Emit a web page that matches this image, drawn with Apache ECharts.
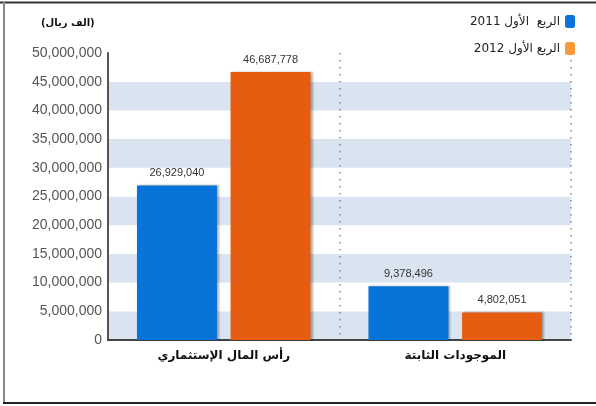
<!DOCTYPE html>
<html><head><meta charset="utf-8">
<script src="https://cdn.jsdelivr.net/npm/echarts@6/dist/echarts.min.js"></script>
<style>html,body{margin:0;padding:0;background:#fff}#c{width:596px;height:406px}</style>
</head><body><div id="c"></div>
<script>
var categories = ['رأس المال الإستثماري', 'الموجودات الثابتة'];
var series2011 = [26929040, 9378496];
var series2012 = [46687778, 4802051];
var seriesNames = ['الربع  الأول 2011', 'الربع الأول 2012'];
var unitLabel = '(الف ريال)';
var yMax = 50000000, yStep = 5000000;

function fmt(v){ return String(v).replace(/\B(?=(\d{3})+(?!\d))/g, ','); }

var chart = echarts.init(document.getElementById('c'), null, {renderer:'canvas'});
var barShadow = {shadowColor:'rgba(0,0,0,0.3)', shadowOffsetX:2, shadowOffsetY:0, shadowBlur:2};
chart.setOption({
  animation:false,
  backgroundColor:'#fff',
  grid:{left:108, right:25, top:53, bottom:66},
  title:{text:unitLabel, left:36, top:13, textStyle:{fontFamily:'DejaVu Sans', fontWeight:'bold', fontSize:10, color:'#111'}},
  legend:{
    orient:'vertical', right:16, top:10, align:'right', itemWidth:10, itemHeight:13, itemGap:14,
    textStyle:{fontFamily:'DejaVu Sans', fontSize:12, color:'#222'},
    data:[{name:seriesNames[0], itemStyle:{color:'#0a74da'}},{name:seriesNames[1], itemStyle:{color:'#f99a38'}}]
  },
  xAxis:{
    type:'category', data:categories,
    axisLine:{lineStyle:{color:'#444', width:2}},
    axisTick:{show:false},
    axisLabel:{fontFamily:'DejaVu Sans', fontWeight:'bold', fontSize:12, color:'#111', margin:10},
    splitLine:{show:true, lineStyle:{color:'#888', type:[1.5,5.5], width:1.5}}
  },
  yAxis:{
    type:'value', min:0, max:yMax, interval:yStep,
    axisLine:{show:true, lineStyle:{color:'#555', width:2}},
    axisTick:{show:false},
    axisLabel:{fontFamily:'Liberation Sans', fontSize:14, color:'#555', margin:6, formatter:fmt},
    splitLine:{show:false},
    splitArea:{show:true, areaStyle:{color:['#d9e4f0','#ffffff']}}
  },
  series:[
    {name:seriesNames[0], type:'bar', data:series2011, barWidth:80, barGap:'17%',
     itemStyle:Object.assign({color:'#0873d9'}, barShadow),
     label:{show:true, position:'top', distance:7, fontFamily:'Liberation Sans', fontSize:11, color:'#333', formatter:function(p){return fmt(p.value);}}},
    {name:seriesNames[1], type:'bar', data:series2012, barWidth:80,
     itemStyle:Object.assign({color:'#e65c10'}, barShadow),
     label:{show:true, position:'top', distance:7, fontFamily:'Liberation Sans', fontSize:11, color:'#333', formatter:function(p){return fmt(p.value);}}}
  ],
  graphic:[
    {type:'line', shape:{x1:0,y1:2.5,x2:596,y2:2.5}, style:{stroke:'#333', lineWidth:2}},
    {type:'line', shape:{x1:4,y1:2,x2:4,y2:404}, style:{stroke:'#888', lineWidth:2}},
    {type:'line', shape:{x1:3,y1:403,x2:596,y2:403}, style:{stroke:'#222', lineWidth:2}}
  ]
});
</script></body></html>
